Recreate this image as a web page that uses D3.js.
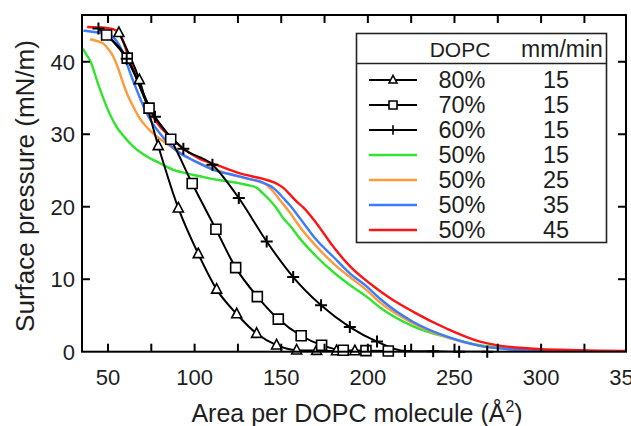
<!DOCTYPE html>
<html>
<head>
<meta charset="utf-8">
<script src="https://cdn.jsdelivr.net/npm/d3@7"></script>
<style>
  html, body { margin: 0; padding: 0; background: #fff; }
  #chart { width: 631px; height: 426px; }
  text { font-family: "Liberation Sans", Arial, sans-serif; fill: #1e1e1e; }
</style>
</head>
<body>
<div id="chart"></div>
<script>
// isotherm curves, [area, pressure]
var dopc80 = [[56.3, 44.0], [68.1, 37.5], [79.0, 28.4], [90.6, 19.8], [102.1, 13.5], [112.7, 8.6],
  [124.3, 5.2], [135.8, 2.5], [147.3, 0.9], [158.9, 0.2], [170.4, 0.15], [181.9, 0.1], [192.5, 0.1]];
var dopc70 = [[49.2, 43.7], [61.1, 40.5], [73.7, 33.6], [86.2, 29.3], [98.6, 23.2], [112.3, 16.9],
  [123.7, 11.6], [136.2, 7.6], [148.3, 4.5], [161.5, 2.2], [173.3, 0.9], [185.8, 0.2], [198.9, 0.15], [211.8, 0.1]];
var dopc60 = [[44.5, 44.6], [60.8, 40.4], [77.1, 32.4], [93.5, 28.0], [110.3, 25.8], [125.5, 21.2],
  [141.6, 15.2], [156.9, 10.3], [173.0, 6.4], [189.6, 3.4], [205.3, 1.4], [221.4, 0.1], [237.7, 0.05],
  [252.7, 0], [268.9, 0]];

var speed15 = [[35.5, 41.8], [37.5, 41.0], [39.6, 40.2], [41.5, 39.0], [43.5, 37.5], [46, 35.8], [49.2, 33.8],
  [52, 32.3], [55, 31.0], [59.5, 29.6], [64.6, 28.3], [72, 27.0], [80, 26.0], [87.7, 25.1], [95.4, 24.6],
  [103, 24.2], [110.8, 23.8], [122, 23.4], [132, 22.9], [136, 22.6], [139.6, 21.8], [143, 21.0], [147.3, 19.8],
  [151.2, 18.4], [155, 17.4], [160.8, 15.6], [170.4, 13.1], [180, 11.0], [189.6, 9.2], [199.3, 7.6], [207, 6.1],
  [226.2, 3.5], [245.4, 2.0], [264.7, 0.9], [283.9, 0.45], [303, 0.15], [315, 0.05]];
var speed25 = [[39.6, 43.1], [43, 42.9], [47.3, 42.5], [50, 41.8], [53.1, 40.7], [56, 39.0], [58.8, 37.0],
  [61.5, 35.3], [64.6, 33.8], [68, 32.3], [72.3, 31.0], [77, 29.9], [83.9, 28.7], [91, 27.5], [99.2, 26.4],
  [108, 25.5], [118.5, 24.6], [128, 24.0], [137.7, 23.4], [141.6, 23.0], [145, 22.2], [149.3, 20.9], [155, 19.2],
  [160.8, 17.2], [170.4, 14.5], [180, 12.2], [189.6, 10.3], [199.3, 8.5], [207, 6.8], [226.2, 3.9], [245.4, 2.0],
  [264.7, 0.8], [283.9, 0.3], [303, 0.1], [340, 0.05]];
var speed35 = [[35.8, 44.3], [42, 44.1], [49.2, 43.9], [53, 43.4], [56, 42.5], [58.5, 41.3], [60.8, 39.8],
  [63.5, 38.0], [66.6, 36.1], [69.5, 34.4], [72.3, 32.9], [76, 31.4], [80, 30.1], [85, 28.7], [91.5, 27.4],
  [100, 26.3], [110.8, 25.1], [124, 24.3], [132, 23.8], [137.7, 23.5], [141.6, 23.1], [145.4, 22.6], [148.5, 21.9],
  [151.2, 21.2], [155, 20.2], [160.8, 18.4], [170.4, 15.4], [180, 13.1], [189.6, 10.8], [199.3, 9.0], [207, 7.3],
  [226.2, 4.1], [245.4, 2.1], [264.7, 0.8], [283.9, 0.3], [303, 0.1], [312, 0.05]];
var speed45 = [[38, 44.8], [48, 44.7], [53, 44.5], [56, 44.0], [58.5, 43.0], [60.5, 41.6], [62.7, 40.0],
  [65, 38.7], [67, 37.5], [71.4, 35.0], [77, 32.0], [81, 30.8], [85.8, 29.7], [91, 28.5], [97.3, 27.4],
  [103, 26.6], [109.8, 26.0], [118, 25.3], [126.2, 24.6], [133, 24.2], [140, 23.8], [145.4, 23.4], [148, 23.1],
  [151.2, 22.6], [155, 21.7], [158.5, 20.8], [162.7, 19.9], [170.4, 17.7], [180, 14.5], [189.6, 11.8],
  [201.2, 9.4], [212.7, 7.4], [226.2, 5.5], [245.4, 3.2], [264.7, 1.4], [274.3, 0.9], [293.5, 0.45],
  [322.4, 0.2], [349, 0.1]];

var legendDopc = ["80%", "70%", "60%", "50%", "50%", "50%", "50%"];
var legendSpeed = ["15", "15", "15", "15", "25", "35", "45"];
var xTicks = [50, 75, 100, 125, 150, 175, 200, 225, 250, 275, 300, 325];
var xLabels = [50, 100, 150, 200, 250, 300, 350];
var yTicks = [0, 10, 20, 30, 40];

var colored = [
  { data: speed15, color: "#2fe52f" },
  { data: speed25, color: "#ff9a3a" },
  { data: speed35, color: "#3a7cff" },
  { data: speed45, color: "#ff1414" }
];
var blacks = [
  { data: dopc80, marker: "tri" },
  { data: dopc70, marker: "sq" },
  { data: dopc60, marker: "plus" }
];

var W = 631, H = 426;
var plotL = 82, plotR = 626, plotT = 15, plotB = 351.7;

var svg = d3.select("#chart").append("svg")
  .attr("width", W)
  .attr("height", H);

var x = d3.scaleLinear().domain([35, 349]).range([plotL, plotR]);
var y = d3.scaleLinear().domain([0, 46.45]).range([plotB, plotT]);

svg.append("defs").append("clipPath").attr("id", "plotClip")
  .append("rect")
  .attr("x", plotL).attr("y", plotT - 8)
  .attr("width", plotR - plotL).attr("height", plotB - plotT + 8);

/*----------------------- curves -----------------------*/
var line = d3.line()
  .x(function(d) { return x(d[0]); })
  .y(function(d) { return y(d[1]); })
  .curve(d3.curveMonotoneX);

var curves = svg.append("g").attr("clip-path", "url(#plotClip)");

curves.selectAll("path.col")
  .data(colored)
  .enter().append("path")
  .attr("class", "col")
  .attr("d", function(d) { return line(d.data); })
  .attr("fill", "none")
  .attr("stroke", function(d) { return d.color; })
  .attr("stroke-width", 2.4)
  .attr("stroke-linejoin", "round");

curves.selectAll("path.blk")
  .data(blacks)
  .enter().append("path")
  .attr("class", "blk")
  .attr("d", function(d) { return line(d.data); })
  .attr("fill", "none")
  .attr("stroke", "#000")
  .attr("stroke-width", 2);

function markerPath(type, s) {
  if (type == "tri") {
    return "M0," + (-1.15 * s) + "L" + s + "," + (0.75 * s) + "L" + (-s) + "," + (0.75 * s) + "Z";
  } else if (type == "sq") {
    return "M" + (-s) + "," + (-s) + "H" + s + "V" + s + "H" + (-s) + "Z";
  }
  return "M" + (-1.2 * s) + ",0H" + (1.2 * s) + "M0," + (-1.2 * s) + "V" + (1.2 * s);
}

blacks.forEach(function(b) {
  svg.append("g").selectAll("path")
    .data(b.data)
    .enter().append("path")
    .attr("transform", function(d) { return "translate(" + x(d[0]) + "," + y(d[1]) + ")"; })
    .attr("d", markerPath(b.marker, 5))
    .attr("fill", b.marker == "plus" ? "none" : "#fff")
    .attr("stroke", "#000")
    .attr("stroke-width", b.marker == "plus" ? 2 : 1.6);
});

/*----------------------- axes -----------------------*/
var axes = svg.append("g");

axes.append("rect")
  .attr("x", plotL).attr("y", plotT)
  .attr("width", plotR - plotL).attr("height", plotB - plotT)
  .attr("fill", "none")
  .attr("stroke", "#000")
  .attr("stroke-width", 2);

var tickLen = 8;
axes.selectAll("line.xt")
  .data(xTicks)
  .enter().append("line")
  .attr("class", "xt")
  .attr("x1", function(d) { return x(d); }).attr("x2", function(d) { return x(d); })
  .attr("y1", plotB).attr("y2", plotB - tickLen)
  .attr("stroke", "#000").attr("stroke-width", 2);
axes.selectAll("line.xtt")
  .data(xTicks)
  .enter().append("line")
  .attr("class", "xtt")
  .attr("x1", function(d) { return x(d); }).attr("x2", function(d) { return x(d); })
  .attr("y1", plotT).attr("y2", plotT + tickLen)
  .attr("stroke", "#000").attr("stroke-width", 2);
axes.selectAll("line.yt")
  .data(yTicks.slice(1))
  .enter().append("line")
  .attr("class", "yt")
  .attr("x1", plotL).attr("x2", plotL + tickLen)
  .attr("y1", function(d) { return y(d); }).attr("y2", function(d) { return y(d); })
  .attr("stroke", "#000").attr("stroke-width", 2);
axes.selectAll("line.ytr")
  .data(yTicks.slice(1))
  .enter().append("line")
  .attr("class", "ytr")
  .attr("x1", plotR).attr("x2", plotR - tickLen)
  .attr("y1", function(d) { return y(d); }).attr("y2", function(d) { return y(d); })
  .attr("stroke", "#000").attr("stroke-width", 2);

axes.selectAll("text.xl")
  .data(xLabels)
  .enter().append("text")
  .attr("class", "xl")
  .attr("x", function(d) { return x(d); })
  .attr("y", 384.5)
  .attr("text-anchor", "middle")
  .attr("font-size", 22)
  .text(function(d) { return d; });

axes.selectAll("text.yl")
  .data(yTicks)
  .enter().append("text")
  .attr("class", "yl")
  .attr("x", 75)
  .attr("y", function(d) { return y(d); })
  .attr("dy", "0.36em")
  .attr("text-anchor", "end")
  .attr("font-size", 22)
  .text(function(d) { return d; });

var xTitle = svg.append("text")
  .attr("x", 357)
  .attr("y", 421.5)
  .attr("text-anchor", "middle")
  .attr("font-size", 25);
xTitle.append("tspan").text("Area per DOPC molecule (Å");
xTitle.append("tspan").attr("dy", -10).attr("font-size", 16).text("2");
xTitle.append("tspan").attr("dy", 10).text(")");

svg.append("text")
  .attr("transform", "translate(33.5,186) rotate(-90)")
  .attr("text-anchor", "middle")
  .attr("font-size", 26)
  .text("Surface pressure (mN/m)");

/*----------------------- legend -----------------------*/
var lg = svg.append("g");
lg.append("rect")
  .attr("x", 356.5).attr("y", 33.5)
  .attr("width", 250).attr("height", 209)
  .attr("fill", "#fff")
  .attr("stroke", "#222")
  .attr("stroke-width", 1.6);
lg.append("line")
  .attr("x1", 356.5).attr("x2", 606.5)
  .attr("y1", 63.5).attr("y2", 63.5)
  .attr("stroke", "#222").attr("stroke-width", 1.6);
lg.append("text").attr("x", 460).attr("y", 56.5).attr("text-anchor", "middle")
  .attr("font-size", 21).text("DOPC");
lg.append("text").attr("x", 562).attr("y", 56.5).attr("text-anchor", "middle")
  .attr("font-size", 23).text("mm/min");

var legendStyle = [
  { marker: "tri" }, { marker: "sq" }, { marker: "plus" },
  { color: colored[0].color }, { color: colored[1].color }, { color: colored[2].color }, { color: colored[3].color }
];

var rows = lg.selectAll("g.row")
  .data(legendDopc)
  .enter().append("g")
  .attr("class", "row")
  .attr("transform", function(d, i) { return "translate(0," + (80 + i * 25) + ")"; });

rows.append("line")
  .attr("x1", 369).attr("x2", 417)
  .attr("stroke", function(d, i) { return legendStyle[i].color || "#000"; })
  .attr("stroke-width", function(d, i) { return legendStyle[i].color ? 2.4 : 2; });

rows.filter(function(d, i) { return legendStyle[i].marker; })
  .append("path")
  .attr("transform", "translate(393,0)")
  .attr("d", function(d, i) { return markerPath(legendStyle[i].marker, 4); })
  .attr("fill", function(d, i) { return legendStyle[i].marker == "plus" ? "none" : "#fff"; })
  .attr("stroke", "#000")
  .attr("stroke-width", 1.6);

rows.append("text")
  .attr("x", 462).attr("y", 8)
  .attr("text-anchor", "middle")
  .attr("font-size", 23.5)
  .text(function(d) { return d; });

rows.append("text")
  .attr("x", 556).attr("y", 8)
  .attr("text-anchor", "middle")
  .attr("font-size", 23.5)
  .text(function(d, i) { return legendSpeed[i]; });
</script>
</body>
</html>
